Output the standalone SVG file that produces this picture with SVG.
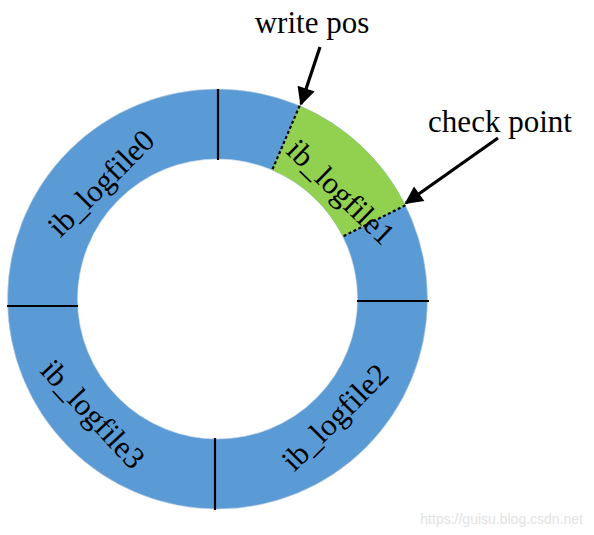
<svg xmlns="http://www.w3.org/2000/svg" width="594" height="535" viewBox="0 0 594 535">
<style>
.lbl{font-family:"Liberation Serif","Times New Roman",serif;font-size:31px;fill:#000}
.sep{stroke:#000;stroke-width:2.2;fill:none}
.dot{stroke:#000;stroke-width:2.2;stroke-dasharray:3 2.5;fill:none}
.arr{stroke:#000;stroke-width:3.2;fill:none}
</style>
<defs>
<marker id="ah" viewBox="0 0 10 10" refX="9" refY="5" markerWidth="6.5" markerHeight="5.6" markerUnits="strokeWidth" orient="auto">
<path d="M0,0 L10,5 L0,10 Z" fill="#000"/>
</marker>
</defs>
<rect width="594" height="535" fill="#fff"/>
<g id="ring">
<circle cx="217.5" cy="299" r="175" fill="none" stroke="#5B9BD5" stroke-width="70"/>
<circle cx="217.5" cy="299" r="210" fill="none" stroke="#c8d4e0" stroke-width="0.6"/>
<circle cx="217.5" cy="299" r="140" fill="none" stroke="#c8d4e0" stroke-width="0.6"/>
</g>
<g id="ib_logfile1_seg">
<path d="M299.6,105.7 A210,210 0 0 1 405.4,205.3 L342.8,236.5 A140,140 0 0 0 272.2,170.1 Z" fill="#92D050"/>
</g>
<g id="separators">
<line class="sep" x1="218" y1="89" x2="218" y2="160"/>
<line class="sep" x1="357" y1="301" x2="429" y2="301"/>
<line class="sep" x1="215" y1="438" x2="215" y2="510"/>
<line class="sep" x1="7" y1="306" x2="78" y2="306"/>
<line class="dot" x1="299.6" y1="105.7" x2="272.2" y2="170.1"/>
<line class="dot" x1="405.4" y1="205.3" x2="342.8" y2="236.5"/>
</g>
<g id="ib_logfile0"><text class="lbl" x="101" y="183" text-anchor="middle" dominant-baseline="central" transform="rotate(-45 101 183)">ib_logfile0</text></g>
<g id="ib_logfile1"><text class="lbl" x="341" y="192" text-anchor="middle" dominant-baseline="central" transform="rotate(44 341 192)">ib_logfile1</text></g>
<g id="ib_logfile2"><text class="lbl" x="335" y="417" text-anchor="middle" dominant-baseline="central" transform="rotate(-45 335 417)">ib_logfile2</text></g>
<g id="ib_logfile3"><text class="lbl" x="93" y="414" text-anchor="middle" dominant-baseline="central" transform="rotate(47 93 414)">ib_logfile3</text></g>
<g id="write_pos"><text class="lbl" x="312" y="33" text-anchor="middle">write pos</text></g>
<g id="check_point"><text class="lbl" x="500" y="132" text-anchor="middle">check point</text></g>
<g id="connectors">
<line class="arr" x1="320" y1="47" x2="301" y2="104" marker-end="url(#ah)"/>
<line class="arr" x1="498" y1="138" x2="406" y2="203" marker-end="url(#ah)"/>
</g>
<text x="583" y="524" text-anchor="end" font-family="Liberation Sans,Arial,sans-serif" font-size="14" fill="#e2e2e2">https://guisu.blog.csdn.net</text>
</svg>
